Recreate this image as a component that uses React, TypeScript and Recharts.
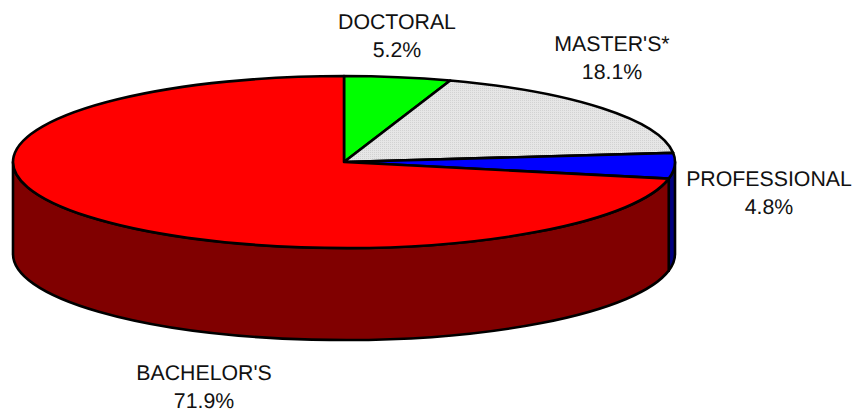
import { PieChart, Pie } from "recharts";

const categories = ["DOCTORAL", "MASTER'S*", "PROFESSIONAL", "BACHELOR'S"];
const shares = [5.2, 18.1, 4.8, 71.9];
const topColors = ["#00ff00", "url(#masters-dots)", "#0000ff", "#ff0000"];
const wallColors = ["#008000", "#707070", "#000080", "#800000"];

// hand placed label centres, same order as categories
const labelCenters = [
  [397, 22],
  [612, 44],
  [769, 179],
  [204, 373],
];

const CX = 344;
const CY = 162;
const RADIUS = 331;
const SQUASH = 86 / 331; // the flat look of the disc
const DEPTH = 92;
const LINE = 2.6;

const topData = categories.map((name, i) => ({ name, value: shares[i], fill: topColors[i] }));
const wallData = categories.map((name, i) => ({ name, value: shares[i], fill: wallColors[i] }));

function pointAt(cx: number, cy: number, r: number, deg: number) {
  const rad = (deg * Math.PI) / 180;
  return [cx + r * Math.cos(rad), cy - r * SQUASH * Math.sin(rad)];
}

function TopSlice(props: any) {
  const { cx, cy, outerRadius: r, startAngle, endAngle, fill } = props;
  const [x1, y1] = pointAt(cx, cy, r, startAngle);
  const [x2, y2] = pointAt(cx, cy, r, endAngle);
  const large = Math.abs(startAngle - endAngle) > 180 ? 1 : 0;
  const d = `M${cx},${cy}L${x1},${y1}A${r},${r * SQUASH} 0 ${large} 1 ${x2},${y2}Z`;
  return <path d={d} fill={fill} stroke="#000" strokeWidth={LINE} strokeLinejoin="round" />;
}

// only the front half of the disc shows a wall (0 to -180 degrees)
function WallSlice(props: any) {
  const { cx, cy, outerRadius: r, startAngle, endAngle, fill } = props;
  const from = Math.min(startAngle, 0);
  const to = Math.max(endAngle, -180);
  if (from <= to) return <g />;
  const [x1, y1] = pointAt(cx, cy, r, from);
  const [x2, y2] = pointAt(cx, cy, r, to);
  const rx = r;
  const ry = r * SQUASH;
  const d =
    `M${x1},${y1}A${rx},${ry} 0 0 1 ${x2},${y2}` +
    `L${x2},${y2 + DEPTH}A${rx},${ry} 0 0 0 ${x1},${y1 + DEPTH}Z`;
  return <path d={d} fill={fill} stroke="#000" strokeWidth={LINE} strokeLinejoin="round" />;
}

function SliceLabel(props: any) {
  const { index, name, value } = props;
  const [x, y] = labelCenters[index];
  return (
    <text
      textAnchor="middle"
      fontFamily="'Liberation Sans', Arial, sans-serif"
      fontSize={21.3}
      fill="#111"
      textRendering="geometricPrecision"
    >
      <tspan x={x} y={y + 7}>
        {name}
      </tspan>
      <tspan x={x} y={y + 35}>
        {value.toFixed(1)}%
      </tspan>
    </text>
  );
}

export default function App() {
  return (
    <div style={{ position: "absolute", left: 0, top: 0, width: 855, height: 411, background: "#fff" }}>
      <PieChart width={855} height={411} margin={{ top: 0, right: 0, bottom: 0, left: 0 }}>
        <defs>
          <pattern id="masters-dots" width={2} height={2} patternUnits="userSpaceOnUse">
            <rect width={2} height={2} fill="#e6e6e6" />
            <rect width={1} height={1} fill="#d2d2d2" />
          </pattern>
        </defs>
        <Pie
          data={wallData}
          dataKey="value"
          nameKey="name"
          cx={CX}
          cy={CY}
          outerRadius={RADIUS}
          startAngle={90}
          endAngle={-270}
          shape={WallSlice}
          isAnimationActive={false}
        />
        <Pie
          data={topData}
          dataKey="value"
          nameKey="name"
          cx={CX}
          cy={CY}
          outerRadius={RADIUS}
          startAngle={90}
          endAngle={-270}
          shape={TopSlice}
          label={SliceLabel}
          labelLine={false}
          isAnimationActive={false}
        />
      </PieChart>
    </div>
  );
}
